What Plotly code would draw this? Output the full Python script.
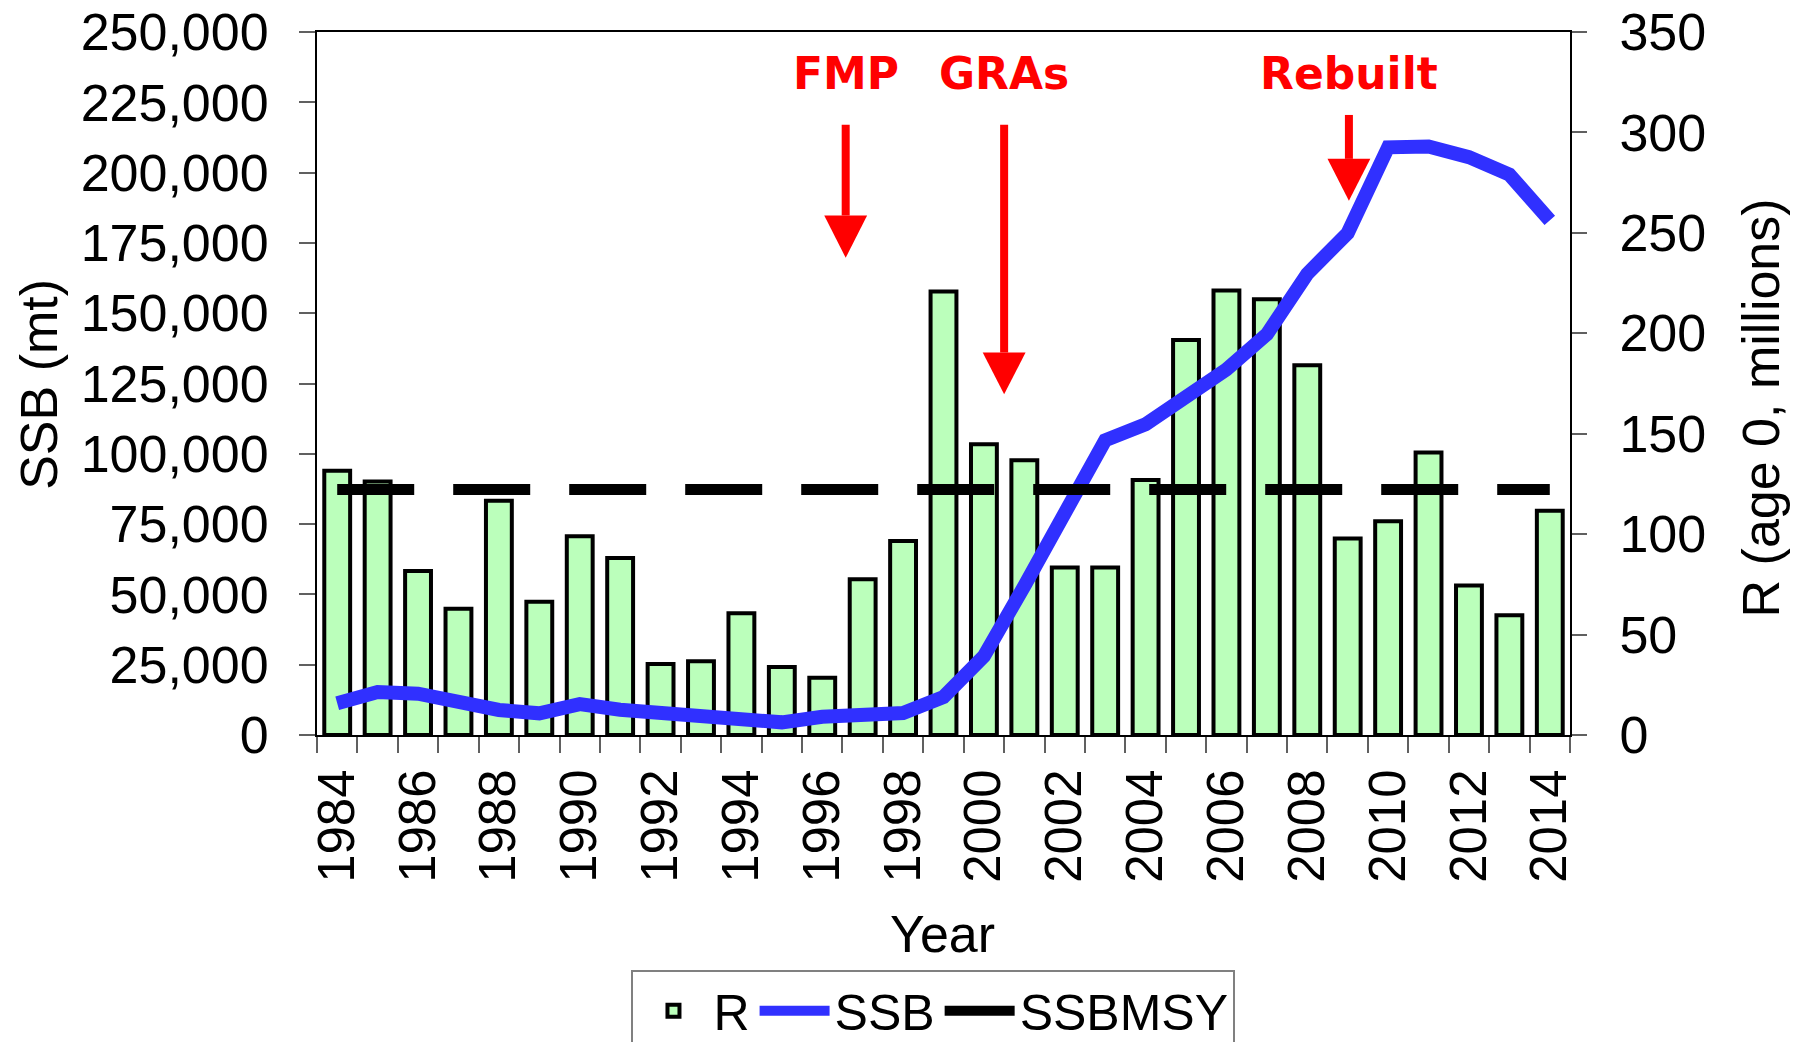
import plotly.graph_objects as go

# ---------------- data ----------------
years = list(range(1984, 2015))
R = [131.5, 126.2, 81.6, 62.8, 116.6, 66.4, 99.0, 88.1, 35.3, 36.7, 60.6, 33.8, 28.5, 77.5,
     96.6, 220.8, 144.8, 136.8, 83.4, 83.4, 126.9, 196.7, 221.3, 216.9, 184.1, 97.8, 106.4,
     140.7, 74.4, 59.6, 111.7]
SSB = [11300, 15300, 14700, 11900, 8900, 7700, 11000, 9000, 7800, 6400, 5200, 4500, 6500, 6800,
       7800, 13500, 28000, 53000, 79000, 104800, 110500, 121000, 130000, 142500, 164000, 178500,
       209000, 209300, 205500, 199300, 183000]
SSBMSY_value = 87300
SSBMSY = [SSBMSY_value] * len(years)

label_years = [y for y in years if y % 2 == 0]
label_text = [str(y) for y in label_years]
boundaries = [y - 0.5 for y in years] + [years[-1] + 0.5]

# event arrows (annotations)
arrow_labels = ["FMP", "GRAs", "Rebuilt"]
arrow_years = [1996.58, 2000.5, 2009.03]
arrow_top = [217000, 217000, 220500]
arrow_head_base = [184700, 136000, 204900]
arrow_tip = [169700, 121200, 190000]
arrow_half_width = 0.53
label_y_paper = 0.941

FONT = "Liberation Sans, Arial, sans-serif"
BAR_FILL = "#BBFFBB"
SSB_COLOR = "#3030FF"
RED = "#FF0000"

fig = go.Figure()

fig.add_trace(go.Bar(
    x=years, y=R, name="R", yaxis="y", width=0.64,
    marker=dict(color=BAR_FILL, line=dict(color="black", width=4)),
))
fig.add_trace(go.Scatter(
    x=years, y=SSB, name="SSB", yaxis="y2", mode="lines",
    line=dict(color=SSB_COLOR, width=14),
))
fig.add_trace(go.Scatter(
    x=years, y=SSBMSY, name="SSBMSY", yaxis="y2", mode="lines",
    line=dict(color="black", width=11, dash="77px,39px"),
))

shapes = []
annotations = []
for lab, xa, yt, yb, yp in zip(arrow_labels, arrow_years, arrow_top, arrow_head_base, arrow_tip):
    shapes.append(dict(type="line", xref="x", yref="y2", x0=xa, x1=xa, y0=yt, y1=yb,
                       line=dict(color=RED, width=8)))
    shapes.append(dict(type="path", xref="x", yref="y2",
                       path=f"M {xa - arrow_half_width},{yb} L {xa + arrow_half_width},{yb} L {xa},{yp} Z",
                       fillcolor=RED, line=dict(color=RED, width=0)))
    annotations.append(dict(x=xa, y=label_y_paper, xref="x", yref="paper", text=f"<b>{lab}</b>",
                            showarrow=False, xanchor="center", yanchor="middle",
                            font=dict(family="DejaVu Sans, Verdana, sans-serif", size=44, color=RED)))

annotations.append(dict(x=-0.2216, y=0.4986, xref="paper", yref="paper", text="SSB (mt)",
                        textangle=-90, showarrow=False, xanchor="center", yanchor="middle",
                        font=dict(family=FONT, size=52, color="black")))
annotations.append(dict(x=1.1532, y=0.4659, xref="paper", yref="paper", text="R (age 0, millions)",
                        textangle=-90, showarrow=False, xanchor="center", yanchor="middle",
                        font=dict(family=FONT, size=52, color="black")))
annotations.append(dict(x=0.499, y=-0.283, xref="paper", yref="paper", text="Year",
                        showarrow=False, xanchor="center", yanchor="middle",
                        font=dict(family=FONT, size=52, color="black")))

fig.update_layout(
    width=1802, height=1042,
    margin=dict(l=317, r=232, t=32, b=307, autoexpand=False),
    paper_bgcolor="white", plot_bgcolor="white",
    font=dict(family=FONT, size=51, color="black"),
    showlegend=True,
    legend=dict(orientation="h", x=0.492, xanchor="center", y=-0.334, yanchor="top",
                bordercolor="#808080", borderwidth=2, font=dict(size=50, family=FONT),
                bgcolor="white", itemwidth=70),
    xaxis=dict(
        range=[years[0] - 0.5, years[-1] + 0.5], tickmode="array",
        tickvals=label_years, ticktext=label_text, tickangle=-90,
        ticks="", ticklabelstandoff=12, automargin=False,
        minor=dict(tickmode="array", tickvals=boundaries, ticks="outside", ticklen=16,
                   tickcolor="#606060", tickwidth=1.5, showgrid=False),
        showline=True, linecolor="black", linewidth=2, mirror=True,
        showgrid=False, zeroline=False, tickfont=dict(size=51),
    ),
    yaxis=dict(
        side="right", range=[0, 350], tickmode="linear", tick0=0, dtick=50,
        ticks="outside", ticklen=15, tickcolor="#606060", tickwidth=1.5,
        ticklabelstandoff=22, automargin=False,
        showline=True, linecolor="black", linewidth=2,
        showgrid=False, zeroline=False, tickfont=dict(size=52),
    ),
    yaxis2=dict(
        overlaying="y", side="left", range=[0, 250000], tickmode="linear", tick0=0, dtick=25000,
        tickformat=",d", ticks="outside", ticklen=16, tickcolor="#606060", tickwidth=1.5,
        ticklabelstandoff=20, automargin=False,
        showline=True, linecolor="black", linewidth=2,
        showgrid=False, zeroline=False, tickfont=dict(size=52),
    ),
    shapes=shapes,
    annotations=annotations,
)

fig.write_html("out.html", config={"displayModeBar": False},
               post_script="document.body.style.margin='0px';")
